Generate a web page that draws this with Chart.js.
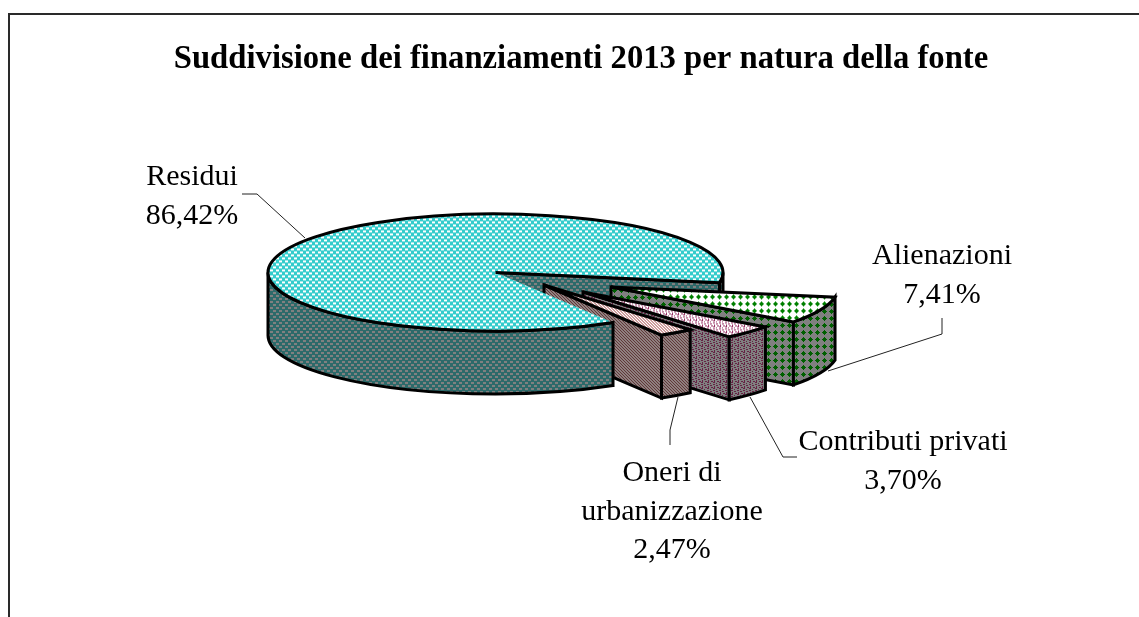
<!DOCTYPE html>
<html>
<head>
<meta charset="utf-8">
<title>Suddivisione dei finanziamenti 2013</title>
<script src="https://cdn.jsdelivr.net/npm/chart.js@4/dist/chart.umd.js"></script>
<style>
html,body{margin:0;padding:0;background:#fff;overflow:hidden;width:1139px;height:617px}
#frame{position:absolute;left:8px;top:13px;right:0;bottom:0;border-left:2px solid #2a2a2a;border-top:2px solid #2a2a2a}
#c{position:absolute;left:23px;top:0}
</style>
</head>
<body>
<div id="frame"></div>
<canvas id="c" width="1116" height="617"></canvas>
<script>
// ---- data ----
const chartTitle = 'Suddivisione dei finanziamenti 2013 per natura della fonte';
const categories = ['Residui', 'Alienazioni', 'Contributi privati', 'Oneri di urbanizzazione'];
const shares = [86.42, 7.41, 3.70, 2.47];

// ---- layout (page pixels) ----
const PAGE_X = 23, CENTRE_X = 495.5, CENTRE_Y = 272.5;
const RADIUS = 227.5, SQUASH = 58.5 / 227.5, DEPTH = 63, ROTATION = 148.9;
const EXPLODE = [[0, 0], [115.5, 14.5], [87.5, 19.5], [48.5, 12.5]];
const LABEL_FONT = '30px "Liberation Serif"';
const LABEL_POS = [
  {x: 192, lines: ['Residui'], y: 185},
  {x: 942, lines: ['Alienazioni'], y: 264},
  {x: 903, lines: ['Contributi privati'], y: 450},
  {x: 672, lines: ['Oneri di', 'urbanizzazione'], y: 481}
];
const LEADERS = [
  [[242, 194], [257, 194], [305, 238]],
  [[942, 318], [942, 334], [828, 371]],
  [[750, 397], [783, 457], [797, 457]],
  [[678, 397], [670, 430], [670, 445]]
];
const LINE_GAP = 38.5;

// ---- hatch patterns ----
function tile(size, bg, fg, rects, squash) {
  const t = document.createElement('canvas');
  t.width = t.height = size;
  const g = t.getContext('2d');
  g.fillStyle = bg; g.fillRect(0, 0, size, size);
  g.fillStyle = fg;
  rects.forEach(r => g.fillRect(r[0], r[1], r[2], r[3]));
  const p = g.createPattern(t, 'repeat');
  if (squash) p.setTransform(new DOMMatrix([1, 0, 0, 1 / SQUASH, 0, 0]));
  return p;
}
const DOTS = [[1, 1, 3, 2], [4, 4, 2, 2], [0, 4, 1, 2]];
const PLUS = [[3, 1, 1, 5], [1, 3, 5, 1], [2, 2, 3, 3]];
const CONFETTI = [[0, 0, 2, 1], [3, 1, 2, 1], [1, 2, 1, 2], [4, 3, 2, 1], [0, 4, 2, 1], [3, 5, 1, 1]];
const DIAG = [[0, 0, 1, 1], [1, 1, 1, 1], [2, 2, 1, 1]];
const topSpec = [
  [6, '#33cccc', '#ffffff', DOTS],
  [7, '#ffffff', '#008000', PLUS],
  [6, '#ffffff', '#993366', CONFETTI],
  [3, '#ffffff', '#a04040', DIAG]
];
const wallSpec = [
  [6, '#2d6a6a', '#808080', DOTS],
  [7, '#808080', '#006000', PLUS],
  [6, '#808080', '#662244', CONFETTI],
  [3, '#8f8080', '#603838', DIAG]
];
const topFill = topSpec.map(s => tile(s[0], s[1], s[2], s[3], true));
const wallFill = wallSpec.map(s => tile(s[0], s[1], s[2], s[3], false));

// ---- 3D drawing around the library's arc elements ----
const sy = y => CENTRE_Y + SQUASH * (y - CENTRE_Y);
const OUTLINE = 3;

function inkSetup(ctx) {
  ctx.lineWidth = OUTLINE;
  ctx.lineJoin = 'miter';
  ctx.strokeStyle = '#000';
}
function flatWalls(ctx, el, i) {
  const R = el.outerRadius, X = el.x, Y = sy(el.y), k = SQUASH;
  ctx.save();
  inkSetup(ctx);
  ctx.fillStyle = wallFill[i];
  [el.startAngle, el.endAngle].forEach((ang, side) => {
    const visible = side === 1 ? Math.cos(ang) > 0 : Math.cos(ang) < 0;
    if (!visible) return;
    const px = X + R * Math.cos(ang), py = Y + R * k * Math.sin(ang);
    ctx.beginPath();
    ctx.moveTo(X, Y); ctx.lineTo(px, py); ctx.lineTo(px, py + DEPTH); ctx.lineTo(X, Y + DEPTH);
    ctx.closePath(); ctx.fill(); ctx.stroke();
  });
  ctx.restore();
}
function rimWall(ctx, el, i, from, to) {
  const s = Math.max(el.startAngle, from), e = Math.min(el.endAngle, to);
  if (e <= s) return;
  const R = el.outerRadius, X = el.x, Y = sy(el.y);
  ctx.save();
  inkSetup(ctx);
  ctx.fillStyle = wallFill[i];
  ctx.beginPath();
  ctx.ellipse(X, Y, R, R * SQUASH, 0, s, e);
  ctx.ellipse(X, Y + DEPTH, R, R * SQUASH, 0, e, s, true);
  ctx.closePath(); ctx.fill(); ctx.stroke();
  ctx.restore();
}
function topFace(ctx, el, area, arcDraw, closed) {
  ctx.save();
  ctx.translate(0, CENTRE_Y);
  ctx.scale(1, SQUASH);
  ctx.translate(0, -CENTRE_Y);
  arcDraw(ctx, area);
  ctx.restore();
  ctx.save();
  inkSetup(ctx);
  const Y = sy(el.y);
  ctx.beginPath();
  if (closed) ctx.moveTo(el.x, Y);
  ctx.ellipse(el.x, Y, el.outerRadius, el.outerRadius * SQUASH, 0, el.startAngle, el.endAngle);
  ctx.lineTo(el.x, Y);
  if (closed) ctx.closePath();
  ctx.stroke();
  ctx.restore();
}

let mainPieFront = null;
const pie3d = {
  id: 'pie3d',
  afterDatasetsUpdate(chart) {
    chart.getDatasetMeta(0).data.forEach((el, i) => {
      el.x = CENTRE_X - PAGE_X + EXPLODE[i][0];
      el.y = CENTRE_Y + EXPLODE[i][1] / SQUASH;
    });
  },
  beforeDatasetDraw(chart) {
    chart.getDatasetMeta(0).data.forEach((el, i) => {
      if (el.__wrapped) return;
      el.__wrapped = true;
      const arcDraw = el.draw.bind(el);
      el.draw = (ctx, area) => {
        if (i === 0) {
          // the big slice is split: its back walls sit behind the exploded
          // slices, its top and front wall in front of them
          flatWalls(ctx, el, i);
          rimWall(ctx, el, i, 2 * Math.PI, 3 * Math.PI);
          mainPieFront = () => {
            rimWall(ctx, el, i, 0, Math.PI);
            topFace(ctx, el, area, arcDraw, false);
          };
        } else {
          flatWalls(ctx, el, i);
          rimWall(ctx, el, i, 0, Math.PI);
          rimWall(ctx, el, i, 2 * Math.PI, 3 * Math.PI);
          topFace(ctx, el, area, arcDraw, true);
        }
      };
    });
  },
  afterDatasetDraw() {
    if (mainPieFront) mainPieFront();
    mainPieFront = null;
  },
  afterDatasetsDraw(chart) {
    const ctx = chart.ctx;
    ctx.save();
    ctx.strokeStyle = '#222';
    ctx.lineWidth = 1;
    LEADERS.forEach(l => {
      ctx.beginPath();
      l.forEach((p, j) => j ? ctx.lineTo(p[0] - PAGE_X, p[1]) : ctx.moveTo(p[0] - PAGE_X, p[1]));
      ctx.stroke();
    });
    ctx.fillStyle = '#000';
    ctx.font = LABEL_FONT;
    ctx.textAlign = 'center';
    ctx.textBaseline = 'alphabetic';
    LABEL_POS.forEach((lab, i) => {
      const lines = lab.lines.concat(shares[i].toFixed(2).replace('.', ',') + '%');
      lines.forEach((t, j) => ctx.fillText(t, lab.x - PAGE_X, lab.y + j * LINE_GAP));
    });
    ctx.restore();
  }
};

new Chart(document.getElementById('c'), {
  type: 'pie',
  plugins: [pie3d],
  data: {
    labels: categories,
    datasets: [{
      data: shares,
      backgroundColor: topFill,
      borderWidth: 0,
      radius: RADIUS,
      clip: false
    }]
  },
  options: {
    responsive: false,
    animation: false,
    events: [],
    rotation: ROTATION,
    radius: RADIUS,
    plugins: {
      legend: {display: false},
      tooltip: {enabled: false},
      title: {
        display: true,
        text: chartTitle,
        color: '#000',
        font: {family: '"Liberation Serif"', size: 32.7, weight: 'bold'},
        padding: {top: 39.5, bottom: 10}
      }
    }
  }
});
</script>
</body>
</html>
